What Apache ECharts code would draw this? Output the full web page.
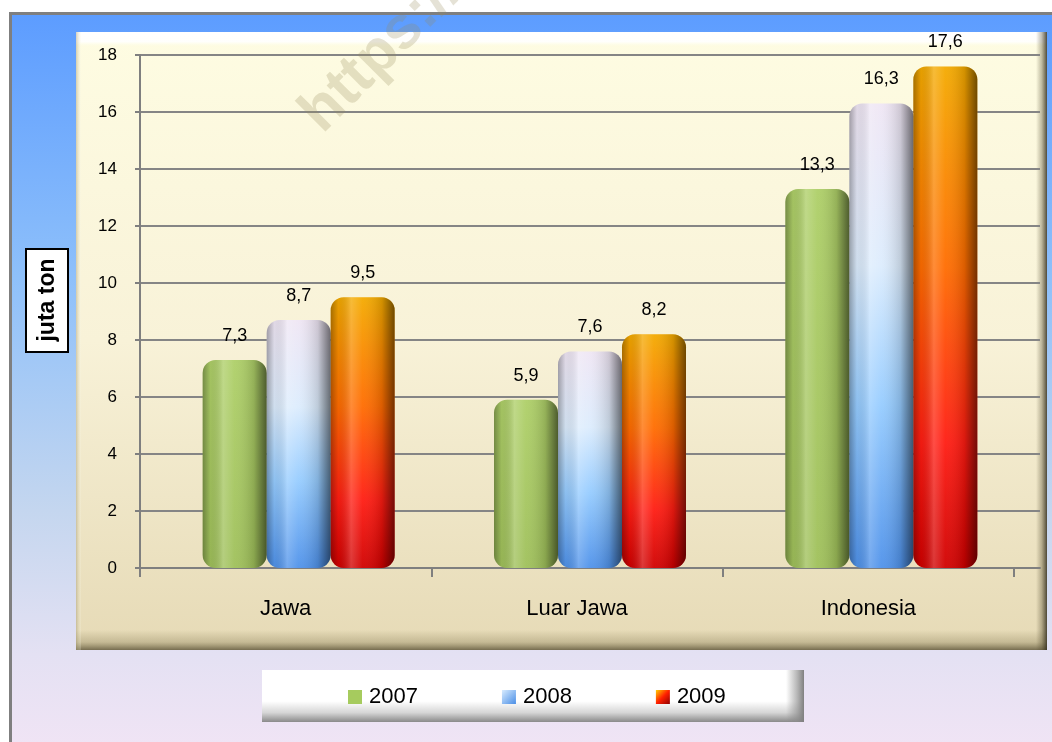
<!DOCTYPE html>
<html>
<head>
<meta charset="utf-8">
<script src="https://cdn.jsdelivr.net/npm/echarts@6/dist/echarts.min.js"></script>
<style>
html,body{margin:0;padding:0;background:#ffffff;}
#chart{width:1052px;height:742px;}
</style>
</head>
<body>
<div id="chart"></div>
<script>
// ---- data ----
const categories = ['Jawa', 'Luar Jawa', 'Indonesia'];
const years = ['2007', '2008', '2009'];
const v2007 = [7.3, 5.9, 13.3];
const v2008 = [8.7, 7.6, 16.3];
const v2009 = [9.5, 8.2, 17.6];
const yMin = 0, yMax = 18, yStep = 2;
const yTitle = 'juta ton';

// ---- styles ----
const FONT = "'Liberation Sans', Arial, sans-serif";
function lg(x1, y1, x2, y2, stops) {
  return new echarts.graphic.LinearGradient(x1, y1, x2, y2, stops.map(s => ({offset: s[0], color: s[1]})));
}
const fills = [
  lg(0, 0, 0, 1, [[0, '#aecf68'], [1, '#9fc05a']]),
  lg(0, 0, 0, 1, [[0, '#efe6f4'], [0.35, '#dcecfd'], [0.65, '#96ccff'], [1, '#4f92ea']]),
  lg(0, 0, 0, 1, [[0, '#f4aa00'], [0.4, '#ff6c00'], [0.75, '#ff1c12'], [1, '#d00000']])
];
const shade = lg(0, 0, 1, 0, [
  [0, 'rgba(0,0,0,0.32)'], [0.12, 'rgba(0,0,0,0.06)'], [0.32, 'rgba(255,255,255,0.22)'],
  [0.5, 'rgba(255,255,255,0.05)'], [0.8, 'rgba(0,0,0,0.14)'], [1, 'rgba(0,0,0,0.55)']
]);
const seriesValues = [v2007, v2008, v2009];
const legendColors = ['#a6cb5e',
  lg(0, 0, 1, 1, [[0, '#d8ecff'], [1, '#4a8ee6']]),
  lg(0, 0, 1, 1, [[0, '#ffd000'], [0.5, '#ff2000'], [1, '#900000']])];

const series = [];
years.forEach((y, i) => {
  series.push({
    name: y, type: 'bar', xAxisIndex: 2, yAxisIndex: 2,
    data: seriesValues[i], barWidth: 64, barGap: '0%',
    itemStyle: {color: fills[i], borderRadius: 13},
    label: {
      show: true, position: 'top', distance: 15, color: '#000',
      fontSize: 18, fontFamily: FONT,
      formatter: p => String(p.value).replace('.', ',')
    },
    z: 3
  });
});
years.forEach((y, i) => {
  series.push({
    name: 'shade' + y, type: 'bar', xAxisIndex: 3, yAxisIndex: 2,
    data: seriesValues[i], barWidth: 64, barGap: '0%', silent: true,
    itemStyle: {color: shade, borderRadius: 13},
    z: 4, tooltip: {show: false}
  });
});

const chart = echarts.init(document.getElementById('chart'), null, {renderer: 'canvas'});
chart.setOption({
  animation: false,
  graphic: [
    {type: 'rect', z: -20, shape: {x: 10.5, y: 13.5, width: 1100, height: 800},
      style: {stroke: '#7f7f7f', lineWidth: 3,
        fill: lg(0, 0, 0, 1, [[0, '#5c9cff'], [0.33, '#8ec0fa'], [0.62, '#c4d6ef'], [0.8, '#e4e1f3'], [1, '#f9e6f6']])}},
    {type: 'rect', z: -19, shape: {x: 76, y: 32, width: 971, height: 618},
      style: {fill: lg(0, 0, 0, 1, [[0, '#fefce2'], [0.5, '#f8f2d8'], [1, '#e6dab6']])}},
    {type: 'rect', z: -18, shape: {x: 76, y: 32, width: 971, height: 14},
      style: {fill: lg(0, 0, 0, 1, [[0, '#ffffff'], [0.7, 'rgba(255,255,255,0.9)'], [1, 'rgba(255,255,240,0)']])}},
    {type: 'rect', z: -18, shape: {x: 76, y: 630, width: 971, height: 20},
      style: {fill: lg(0, 0, 0, 1, [[0, 'rgba(120,110,70,0)'], [0.6, 'rgba(120,110,70,0.3)'], [1, 'rgba(80,72,45,0.75)']])}},
    {type: 'rect', z: -17, shape: {x: 1036, y: 32, width: 11, height: 618},
      style: {fill: lg(0, 0, 1, 0, [[0, 'rgba(80,72,45,0)'], [0.5, 'rgba(80,72,45,0.35)'], [1, 'rgba(50,45,30,0.85)']])}},
    {type: 'rect', z: -17, shape: {x: 76, y: 32, width: 5, height: 618},
      style: {fill: lg(0, 0, 1, 0, [[0, 'rgba(160,150,110,0.45)'], [1, 'rgba(255,255,240,0.2)']])}},
    // legend box
    {type: 'rect', z: -16, shape: {x: 262, y: 670, width: 542, height: 52},
      style: {fill: lg(0, 0, 0, 1, [[0, '#ffffff'], [0.6, '#ffffff'], [0.82, '#d6d6d6'], [1, '#8a8a8a']])}},
    {type: 'rect', z: -15, shape: {x: 786, y: 670, width: 18, height: 52},
      style: {fill: lg(0, 0, 1, 0, [[0, 'rgba(138,138,138,0)'], [0.6, 'rgba(138,138,138,0.6)'], [1, 'rgba(128,128,128,1)']])}},
    // y title box
    {type: 'rect', z: 10, shape: {x: 26, y: 249, width: 42, height: 103},
      style: {fill: '#ffffff', stroke: '#000000', lineWidth: 2}},
    {type: 'text', z: 11, x: 48, y: 300, rotation: Math.PI / 2,
      style: {text: yTitle, fill: '#000', fontSize: 23, fontWeight: 'bold', fontFamily: FONT,
        align: 'center', verticalAlign: 'middle'}},
    // watermark
    {type: 'text', z: 50, x: 332, y: 144, rotation: Math.PI / 4, silent: true,
      style: {text: 'https://', fill: 'rgba(150,140,90,0.25)', fontSize: 60, fontWeight: 'bold',
        fontFamily: FONT, align: 'left', verticalAlign: 'bottom'}}
  ],
  legend: {
    data: years.map((y, i) => ({name: y, itemStyle: {color: legendColors[i]}})),
    left: 348, top: 686, padding: 0, itemWidth: 14, itemHeight: 14, itemGap: 84, icon: 'rect',
    textStyle: {fontSize: 22, color: '#000', fontFamily: FONT, padding: [0, 0, 0, 2]}
  },
  grid: [
    {left: 140, top: 55, width: 900, height: 513},
    {left: 140, top: 55, width: 874, height: 513},
    {left: 153, top: 55, width: 874, height: 513}
  ],
  xAxis: [
    {gridIndex: 0, type: 'value', min: 0, max: 1,
      axisLine: {show: true, lineStyle: {color: '#7f7f7f', width: 2}},
      axisTick: {show: false}, axisLabel: {show: false}, splitLine: {show: false}},
    {gridIndex: 1, type: 'category', data: categories,
      axisLine: {show: false},
      axisTick: {show: true, length: 9, lineStyle: {color: '#7f7f7f', width: 2}},
      axisLabel: {color: '#000', fontSize: 22, fontFamily: FONT, margin: 30}},
    {gridIndex: 2, type: 'category', data: categories, show: false},
    {gridIndex: 2, type: 'category', data: categories, show: false}
  ],
  yAxis: [
    {gridIndex: 0, type: 'value', min: yMin, max: yMax, interval: yStep,
      axisLine: {show: true, lineStyle: {color: '#7f7f7f', width: 2}},
      axisTick: {show: true, length: 5, lineStyle: {color: '#7f7f7f', width: 2}},
      axisLabel: {color: '#000', fontSize: 17, fontFamily: FONT, margin: 23},
      splitLine: {show: true, lineStyle: {color: '#858585', width: 2}}},
    {gridIndex: 1, type: 'value', min: yMin, max: yMax, interval: yStep, show: false, splitLine: {show: false}},
    {gridIndex: 2, type: 'value', min: yMin, max: yMax, interval: yStep, show: false, splitLine: {show: false}}
  ],
  series: series
});
</script>
</body>
</html>
